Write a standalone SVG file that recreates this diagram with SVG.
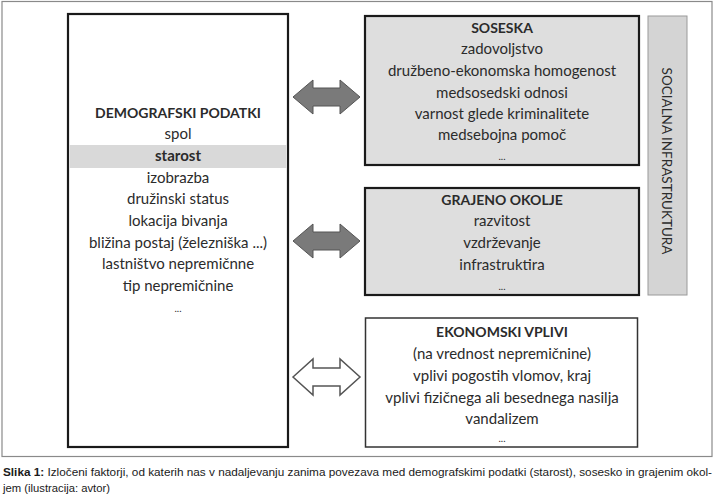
<svg xmlns="http://www.w3.org/2000/svg" width="720" height="501" viewBox="0 0 720 501">
<style>
  .t { font-family: Lato, "Open Sans", "Liberation Sans", sans-serif; font-size: 15px; fill: #2b2b2b; text-anchor: middle; dominant-baseline: central; }
  .b { font-weight: bold; font-size: 14px; }
  .d { font-size: 10px; }
  .box { stroke: #1a1a1a; stroke-width: 2.2; }
  .grey { fill: #dedede; }
  .cap { font-family: "Liberation Sans", Arial, sans-serif; font-size: 11.5px; fill: #1a1a1a; }
  .arrowFill { fill: #7a7a7a; stroke: #555; stroke-width: 1; }
  .arrowHollow { fill: #ffffff; stroke: #555; stroke-width: 1.5; }
</style>
<rect width="720" height="501" fill="#ffffff"/>
<rect x="2" y="1.5" width="710" height="455" fill="#ffffff" stroke="#8a8a8a" stroke-width="1.2"/>

<g id="demografski">
  <rect class="box" x="68" y="14" width="220" height="433" fill="#ffffff"/>
  <rect x="69.5" y="145" width="217" height="23" fill="#d9d9d9"/>
  <text class="t b" x="178" y="112">DEMOGRAFSKI PODATKI</text>
  <text class="t" x="178" y="133">spol</text>
  <text class="t b" x="178" y="155" style="font-size:15px">starost</text>
  <text class="t" x="178" y="177">izobrazba</text>
  <text class="t" x="178" y="198">družinski status</text>
  <text class="t" x="178" y="220">lokacija bivanja</text>
  <text class="t" x="178" y="242">bližina postaj (železniška ...)</text>
  <text class="t" x="178" y="263">lastništvo nepremičnne</text>
  <text class="t" x="178" y="285">tip nepremičnine</text>
  <text class="t d" x="178" y="308">...</text>
</g>

<g id="soseska">
  <rect class="box grey" x="365" y="16" width="274" height="149"/>
  <text class="t b" x="502" y="27">SOSESKA</text>
  <text class="t" x="502" y="48">zadovoljstvo</text>
  <text class="t" x="502" y="70">družbeno-ekonomska homogenost</text>
  <text class="t" x="502" y="92">medsosedski odnosi</text>
  <text class="t" x="502" y="113">varnost glede kriminalitete</text>
  <text class="t" x="502" y="134">medsebojna pomoč</text>
  <text class="t d" x="502" y="156">...</text>
</g>

<g id="grajeno">
  <rect class="box grey" x="365" y="188" width="274" height="107"/>
  <text class="t b" x="502" y="199">GRAJENO OKOLJE</text>
  <text class="t" x="502" y="220">razvitost</text>
  <text class="t" x="502" y="242">vzdrževanje</text>
  <text class="t" x="502" y="264">infrastruktira</text>
  <text class="t d" x="502" y="286">...</text>
</g>

<g id="ekonomski">
  <rect x="365.5" y="318" width="272" height="129" fill="#ffffff" stroke="#333" stroke-width="1.5"/>
  <text class="t b" x="502" y="331">EKONOMSKI VPLIVI</text>
  <text class="t" x="502" y="353">(na vrednost nepremičnine)</text>
  <text class="t" x="502" y="375">vplivi pogostih vlomov, kraj</text>
  <text class="t" x="502" y="397">vplivi fizičnega ali besednega nasilja</text>
  <text class="t" x="502" y="418">vandalizem</text>
  <text class="t d" x="502" y="438">...</text>
</g>

<g id="socialna">
  <rect x="648" y="16" width="39" height="279" fill="#d4d4d4" stroke="#9a9a9a" stroke-width="1"/>
  <text class="t" x="0" y="0" transform="translate(667,161) rotate(90)" style="font-size:13.5px">SOCIALNA INFRASTRUKTURA</text>
</g>

<g id="connectors">
  <path class="arrowFill" d="M293,97 L313,80 L313,88 L340,88 L340,80 L360,97 L340,114 L340,106 L313,106 L313,114 Z"/>
  <path class="arrowFill" d="M293,241 L313,224 L313,232 L340,232 L340,224 L360,241 L340,258 L340,250 L313,250 L313,258 Z"/>
  <path class="arrowHollow" d="M293,377 L313,359 L313,368 L340,368 L340,359 L360,377 L340,395 L340,386 L313,386 L313,395 Z"/>
</g>

<g id="caption">
  <text class="cap" x="3" y="476" textLength="709" lengthAdjust="spacingAndGlyphs"><tspan font-weight="bold">Slika 1:</tspan> Izločeni faktorji, od katerih nas v nadaljevanju zanima povezava med demografskimi podatki (starost), sosesko in grajenim okol-</text>
  <text class="cap" x="3" y="492" textLength="107" lengthAdjust="spacingAndGlyphs">jem (ilustracija: avtor)</text>
</g>
</svg>
